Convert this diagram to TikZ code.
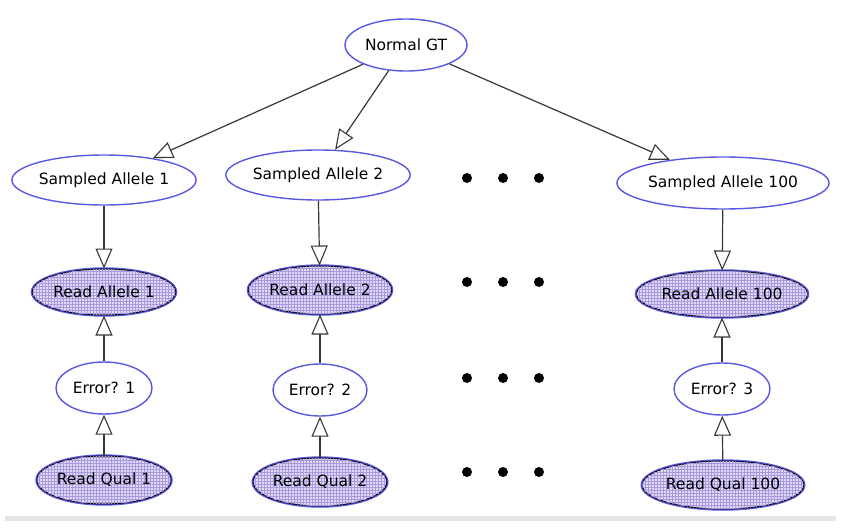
\documentclass[tikz,border=0pt]{standalone}
\usepackage{fontspec}
\setmainfont{DejaVu Sans}
\usetikzlibrary{shapes.geometric,arrows.meta,patterns}
\definecolor{edgeblue}{RGB}{88,88,228}
\definecolor{lav}{RGB}{224,218,246}
\definecolor{gridpurple}{RGB}{168,152,222}
\definecolor{linkgray}{RGB}{55,55,55}
\definecolor{barfill}{RGB}{228,228,228}
\begin{document}
\begin{tikzpicture}[x=1pt,y=-1pt,
  var/.style={ellipse, draw=edgeblue, line width=1.4pt, fill=white, inner sep=0pt,
    font=\fontsize{15.5}{18}\selectfont, text=black},
  obs/.style={var, draw=black, line width=1pt, fill=lav,
    preaction={draw=edgeblue, line width=3.4pt},
    postaction={pattern=grid, pattern color=gridpurple}},
  link/.style={draw=linkgray, line width=1.2pt,
    -{Triangle[length=20pt,width=17pt,fill=white,line width=1.1pt]}},
  dot/.style={circle, fill=black, inner sep=0pt, minimum size=10pt}]
\useasboundingbox (0,0) rectangle (842,529);
\fill[white] (0,0) rectangle (842,529);
% bottom strip
\fill[barfill] (5,516) rectangle (836,521);

% root
\node[var, minimum width=122pt, minimum height=52pt] (gt) at (406,45) {Normal GT};

% sampled alleles
\node[var, minimum width=170pt, minimum height=50pt] (s1) at (104,180) {Sampled Allele 1};
\node[var, minimum width=168pt, minimum height=50pt] (s2) at (318,175) {Sampled Allele 2};
\node[var, minimum width=192pt, minimum height=52pt] (s3) at (723,183) {Sampled Allele 100};

% observed reads
\node[obs, minimum width=142pt, minimum height=46pt] (r1) at (104,292) {Read Allele 1};
\node[obs, minimum width=140pt, minimum height=48pt] (r2) at (320,290) {Read Allele 2};
\node[obs, minimum width=156pt, minimum height=46pt] (r3) at (722,294) {Read Allele 100};

% error variables
\node[var, minimum width=96pt, minimum height=52pt] (e1) at (104,388) {Error? 1};
\node[var, minimum width=94pt, minimum height=52pt] (e2) at (320,390) {Error? 2};
\node[var, minimum width=96pt, minimum height=52pt] (e3) at (722,389) {Error? 3};

% read qualities
\node[obs, minimum width=134pt, minimum height=48pt] (q1) at (104,480) {Read Qual 1};
\node[obs, minimum width=132pt, minimum height=48pt] (q2) at (320,482) {Read Qual 2};
\node[obs, minimum width=156pt, minimum height=48pt] (q3) at (723,485) {Read Qual 100};

% ellipsis dots
\foreach \row/\yy in {a/178,b/282,c/378,d/472}
  \foreach \col/\xx in {1/467,2/503,3/539}
    \node[dot] (dot\row\col) at (\xx,\yy) {};

% edges
\draw[link] (gt) -- (s1);
\draw[link] (gt) -- (s2);
\draw[link] (gt) -- (s3);
\foreach \i in {1,2,3} {
  \draw[link] (s\i) -- (r\i);
  \draw[link] (e\i) -- (r\i);
  \draw[link] (q\i) -- (e\i);
}
\end{tikzpicture}
\end{document}
